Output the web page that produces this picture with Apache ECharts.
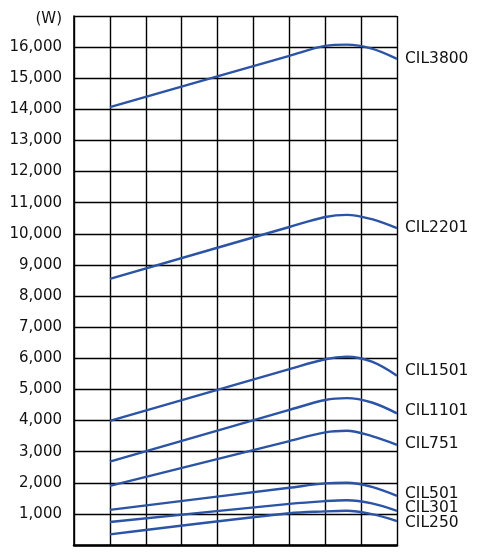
<!DOCTYPE html>
<html>
<head>
<meta charset="utf-8">
<script src="https://cdn.jsdelivr.net/npm/echarts@6/dist/echarts.min.js"></script>
<style>
  html, body { margin: 0; padding: 0; background: #fff; }
  #chart { width: 483px; height: 557px; }
</style>
</head>
<body>
<div id="chart"></div>
<script>
const xPositions = [1, 6, 7, 7.6, 8.3, 9]

const seriesNames = ['CIL3800', 'CIL2201', 'CIL1501', 'CIL1101', 'CIL751', 'CIL501', 'CIL301', 'CIL250']

const cil3800 = [14070, 15720, 16040, 16080, 15950, 15620]
const cil2201 = [8550, 10220, 10540, 10610, 10470, 10180]
const cil1501 = [3990, 5650, 5970, 6050, 5890, 5440]
const cil1101 = [2680, 4340, 4660, 4720, 4580, 4230]
const cil751 = [1900, 3340, 3620, 3670, 3500, 3220]
const cil501 = [1130, 1840, 1980, 2000, 1870, 1580]
const cil301 = [740, 1320, 1410, 1440, 1340, 1100]
const cil250 = [340, 1020, 1080, 1100, 990, 770]

const yTicks = { min: 0, max: 17000, step: 1000 }
const unitLabel = '(W)'

const allValues = [cil3800, cil2201, cil1501, cil1101, cil751, cil501, cil301, cil250]
// small vertical nudges for the end labels so they don't collide
const labelNudge = [0, 0, -5, -2, -1, -2, -3, 2]

const lineColor = '#2b53a6'
const font = 'DejaVu Sans'

let myChart = echarts.init(document.getElementById('chart'))

let series = allValues.map((vals, i) => {
    return {
        name: seriesNames[i],
        type: 'line',
        data: vals.map((v, j) => [xPositions[j], v]),
        smooth: 0.35,
        showSymbol: false,
        lineStyle: { color: lineColor, width: 2.4 },
        itemStyle: { color: lineColor },
        endLabel: {
            show: true,
            formatter: '{a}',
            color: '#111',
            fontFamily: font,
            fontSize: 15.5,
            distance: 8,
            offset: [0, labelNudge[i]]
        },
        silent: true,
        animation: false
    }
})

let option = {
    animation: false,
    grid: { left: 74, top: 16, right: 86, bottom: 12 },
    xAxis: {
        type: 'value',
        min: 0,
        max: 9,
        interval: 1,
        axisLine: { show: true, lineStyle: { color: '#000', width: 2.5 } },
        axisTick: { show: false },
        axisLabel: { show: false },
        splitLine: { show: true, lineStyle: { color: '#000', width: 1.4 } }
    },
    yAxis: {
        type: 'value',
        min: yTicks.min,
        max: yTicks.max,
        interval: yTicks.step,
        axisLine: { show: true, lineStyle: { color: '#000', width: 1.6 } },
        axisTick: { show: false },
        axisLabel: {
            color: '#111',
            fontFamily: font,
            fontSize: 15,
            margin: 12,
            formatter: function (v) {
                if (v === yTicks.min) return ''
                if (v === yTicks.max) return '{u|' + unitLabel + '}'
                return v.toLocaleString('en-US')
            },
            rich: {
                u: { fontFamily: font, fontSize: 15, color: '#111', padding: [6, 0, 0, 0] }
            }
        },
        splitLine: { show: true, lineStyle: { color: '#000', width: 1.4 } }
    },
    series: series
}

myChart.setOption(option)
</script>
</body>
</html>
